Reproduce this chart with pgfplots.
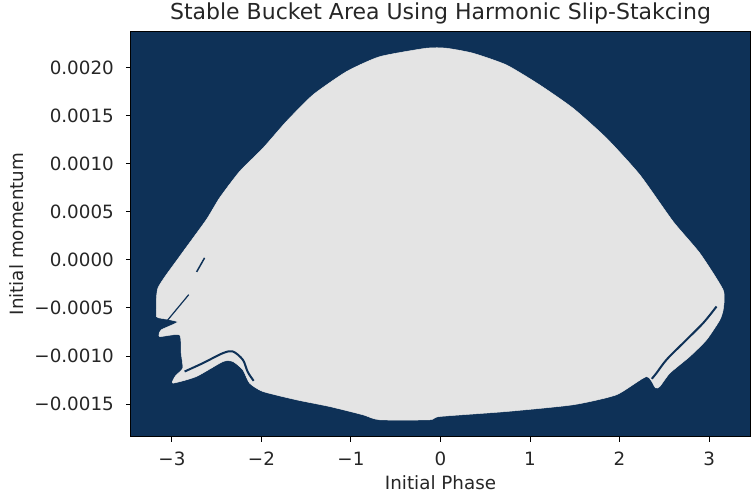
\documentclass[border=0pt]{standalone}
\usepackage{fontspec}
\setmainfont{DejaVu Sans}
\usepackage{pgfplots}
\pgfplotsset{compat=1.18}
\definecolor{navy}{RGB}{14,49,87}
\definecolor{bucket}{RGB}{228,228,228}
\begin{document}
\begin{tikzpicture}
\begin{axis}[
  scale only axis, width=619pt, height=405pt,
  xmin=-3.457, xmax=3.457, ymin=-0.001837, ymax=0.002375,
  axis background/.style={fill=navy},
  axis line style={black, line width=1pt},
  tick pos=left, tick align=outside, major tick length=5pt,
  tick style={black, line width=1pt},
  xtick={-3,-2,-1,0,1,2,3},
  xticklabels={−3,−2,−1,0,1,2,3},
  ytick={-0.0015,-0.001,-0.0005,0,0.0005,0.001,0.0015,0.002},
  yticklabels={−0.0015,−0.0010,−0.0005,0.0000,0.0005,0.0010,0.0015,0.0020},
  scaled y ticks=false,
  ticklabel style={font=\fontsize{18.3}{20}\selectfont, text=black!85, inner sep=2pt},
  xticklabel style={yshift=-8pt},
  yticklabel style={xshift=-10pt},
  label style={font=\fontsize{18.3}{20}\selectfont, text=black!85},
  xlabel={Initial Phase}, ylabel={Initial momentum},
  xlabel style={at={(axis description cs:0.5,-0.1143)}, anchor=center},
  ylabel style={at={(axis description cs:-0.184,0.5)}, anchor=center, rotate=0},
  title={Stable Bucket Area Using Harmonic Slip-Stakcing},
  title style={at={(axis description cs:0.5,1.0136)}, anchor=base, font=\fontsize{22}{24}\selectfont, text=black!85},
]
\addplot[fill=bucket, draw=bucket, line width=0.5pt, smooth, tension=0.35] coordinates {
(-3.174,-0.000589) (-3.156,-0.000294) (-2.914,0.0000343) (-2.616,0.000416)
(-2.467,0.000644) (-2.244,0.000918) (-1.983,0.001161) (-1.722,0.001438)
(-1.425,0.001715) (-1.051,0.001957) (-0.679,0.002113) (-0.158,0.002201)
(0.066,0.002201) (0.363,0.002149) (0.736,0.002027) (1.108,0.001819)
(1.480,0.001577) (1.854,0.001265) (2.226,0.000884) (2.598,0.000398)
(2.896,0.0000696) (3.156,-0.000312) (3.160,-0.000502) (3.120,-0.000624)
(2.971,-0.000832) (2.784,-0.001005) (2.561,-0.001178) (2.449,-0.001317)
(2.400,-0.001330) (2.301,-0.001213) (1.965,-0.001403) (1.480,-0.001507)
(0.736,-0.001577) (-0.009,-0.001629) (-0.121,-0.001663) (-0.680,-0.001663)
(-0.866,-0.001611) (-1.238,-0.001525) (-1.610,-0.001455) (-1.983,-0.001369)
(-2.132,-0.001282) (-2.207,-0.001143) (-2.318,-0.001057) (-2.430,-0.001057)
(-2.727,-0.001213) (-2.989,-0.001282) (-2.959,-0.001206) (-2.878,-0.001126)
(-2.896,-0.000970) (-2.914,-0.000780) (-3.137,-0.000797) (-3.118,-0.000728)
(-2.936,-0.000645) (-3.148,-0.000603)
} -- cycle;
% dark gaps
\addplot[draw=navy, line width=2pt, smooth] coordinates {
(-2.858,-0.001161) (-2.654,-0.001074) (-2.430,-0.000970) (-2.318,-0.000953)
(-2.207,-0.001040) (-2.154,-0.001164) (-2.087,-0.001258)
};
\addplot[draw=navy, line width=2pt, smooth] coordinates {
(3.083,-0.000485) (2.933,-0.000658) (2.709,-0.000866) (2.524,-0.001039)
(2.412,-0.001178) (2.360,-0.001237)
};
\addplot[draw=navy, line width=1.5pt] coordinates {(-2.724,-0.000125) (-2.635,0.0000208)};
\addplot[draw=navy, line width=1.2pt] coordinates {(-3.060,-0.000640) (-2.812,-0.000362)};
\end{axis}
\pgfresetboundingbox
\useasboundingbox (-131pt,-59.3pt) rectangle (620pt,436.5pt);
\end{tikzpicture}
\end{document}
